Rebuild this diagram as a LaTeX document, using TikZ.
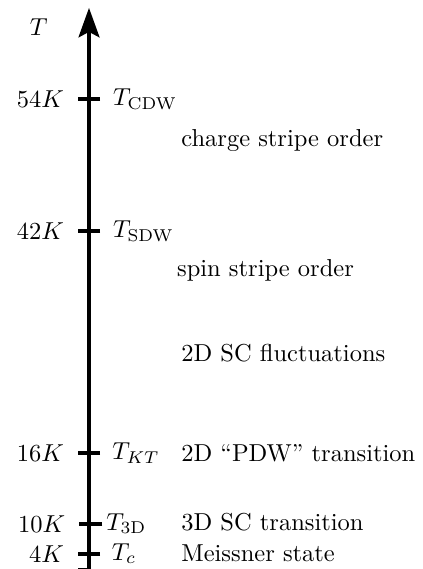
\documentclass[tikz,border=0pt]{standalone}
\usetikzlibrary{arrows,arrows.meta}
\tikzset{tickmark/.style={line width=1.6pt}}

\begin{document}
\begin{tikzpicture}

    \useasboundingbox (-1.277,0) rectangle (4.778,8.163);

    % axis
    \coordinate (axbot) at (0,-0.1);
    \coordinate (axtop) at (0,8.05);
	\draw[line width=1.6pt, -{Stealth[length=12pt, width=8.5pt, inset=2.2pt]}] (axbot) -- (axtop);
	\node (Tlab) at (-0.72,7.78) {$T$};

	% transition temperatures
	\draw[tickmark] (0.16,6.74) node[right=1.2pt] (Tcdw) {$T_{\mathrm{CDW}}$} -- (-0.16,6.74) node[left=1.6pt] (k54) {$54K$};
	\draw[tickmark] (0.16,4.85) node[right=1.2pt] (Tsdw) {$T_{\mathrm{SDW}}$} -- (-0.16,4.85) node[left=1.6pt] (k42) {$42K$};
	\draw[tickmark] (0.16,1.66) node[right=0.8pt] (Tkt) {$T_{KT}$} -- (-0.16,1.66) node[left=1.6pt] (k16) {$16K$};
	\draw[tickmark] (0.19,0.65) node[right, xshift=-2.5pt] (Tthree) {$T_{\mathrm{3D}}$} -- (-0.14,0.65) node[left=1.6pt] (k10) {$10K$};
	\draw[tickmark] (0.16,0.22) node[right=0.6pt] (Tc) {$T_c$} -- (-0.16,0.22) node[left=1.6pt] (k4) {$4K$};
	\draw[tickmark] (0,-0.015) -- (-0.16,-0.015);

	% phases
	\node[anchor=west] (charge) at (1.20,6.15) {charge stripe order};
	\node[anchor=west] (spin) at (1.14,4.29) {spin stripe order};
	\node[anchor=west] (fluct) at (1.20,3.10) {2D SC fluctuations};
	\node[anchor=west] (pdw) at (1.20,1.66) {2D ``PDW'' transition};
	\node[anchor=west] (threeD) at (1.20,0.67) {3D SC transition};
	\node[anchor=west] (meissner) at (1.20,0.23) {Meissner state};

\end{tikzpicture}
\end{document}
